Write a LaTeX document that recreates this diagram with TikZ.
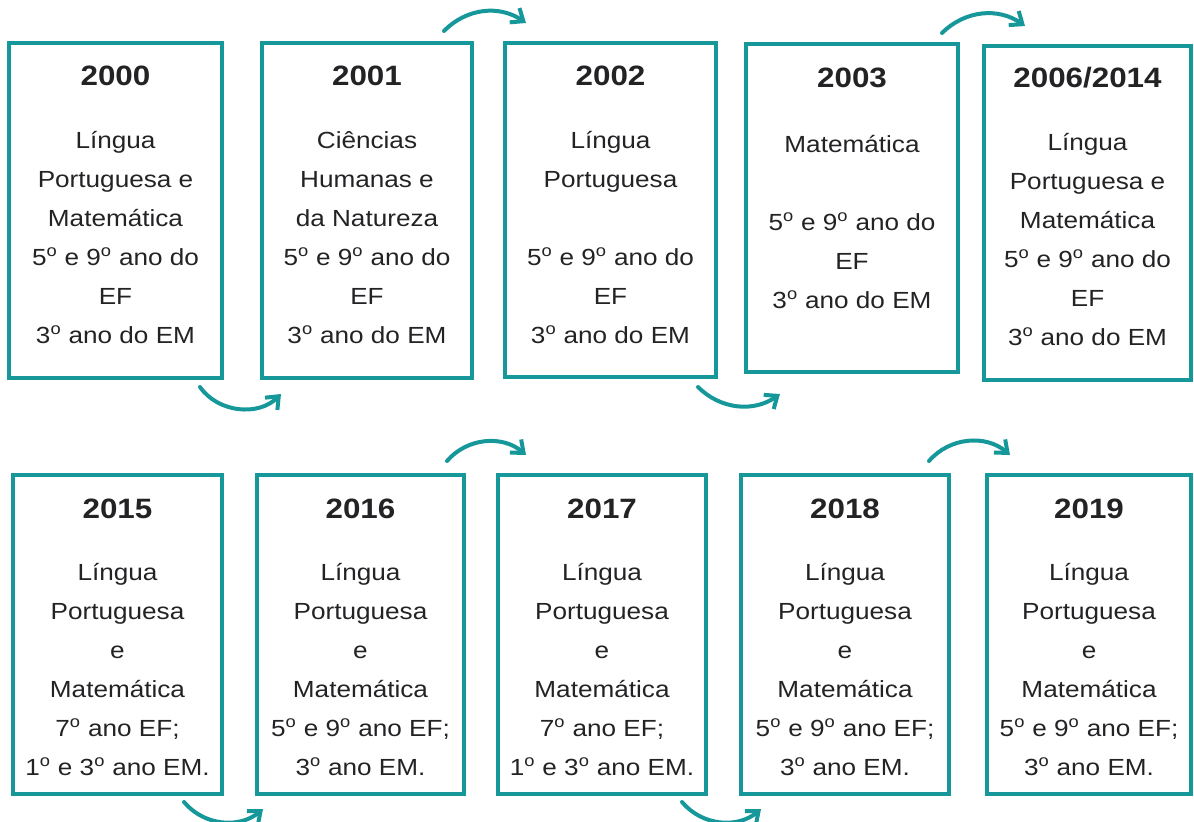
\documentclass[tikz,border=0pt]{standalone}
\usepackage{fontspec}
\setmainfont[FakeStretch=1.12]{Liberation Sans}
\usetikzlibrary{arrows.meta}
\definecolor{tealline}{RGB}{22,152,155}
\definecolor{inkgrey}{RGB}{35,35,38}
\newcommand{\cellstack}[1]{\begin{tabular}[t]{@{}c@{}}#1\end{tabular}}
\newcommand{\ord}{\textsuperscript{o}}
\tikzset{
  yearbox/.style={draw=tealline, line width=3pt, inner sep=0pt},
  yearlabel/.style={anchor=base, inner sep=0pt, text=inkgrey,
    font=\fontsize{21}{25}\selectfont\bfseries},
  bodylabel/.style={anchor=base, inner sep=0pt, text=inkgrey,
    font=\fontsize{17.5}{29.25}\selectfont},
  flow/.style={draw=tealline, line width=3pt, line cap=round,
    -{Straight Barb[length=8pt,width=13pt]}}
}
\begin{document}
\begin{tikzpicture}[x=0.75pt,y=-0.75pt]
    \def\px{0.75pt}
    \useasboundingbox (0,0) rectangle (1194,821);
    % top row
    \node[yearbox, minimum width=213*\px, minimum height=335*\px] (A0_0) at (115.5,210.5) {};
    \node[yearbox, minimum width=210*\px, minimum height=335*\px] (A0_1) at (367,210.5) {};
    \node[yearbox, minimum width=211*\px, minimum height=334*\px] (A0_2) at (610.5,210) {};
    \node[yearbox, minimum width=212*\px, minimum height=328*\px] (A0_3) at (852,208) {};
    \node[yearbox, minimum width=207*\px, minimum height=334*\px] (A0_4) at (1087.5,213) {};
    \node[yearlabel] (Y0_0) at (115.5,85) {2000};
    \node[yearlabel] (Y0_1) at (367,85) {2001};
    \node[yearlabel] (Y0_2) at (610.5,85) {2002};
    \node[yearlabel] (Y0_3) at (852,87) {2003};
    \node[yearlabel] (Y0_4) at (1087.5,87) {2006/2014};
    \node[bodylabel] (T0_0) at (115.5,148) {\cellstack{Língua\\Portuguesa e\\Matemática\\5\ord{} e 9\ord{} ano do\\EF\\3\ord{} ano do EM}};
    \node[bodylabel] (T0_1) at (367,148) {\cellstack{Ciências\\Humanas e\\da Natureza\\5\ord{} e 9\ord{} ano do\\EF\\3\ord{} ano do EM}};
    \node[bodylabel] (T0_2) at (610.5,148) {\cellstack{Língua\\Portuguesa\\ \\5\ord{} e 9\ord{} ano do\\EF\\3\ord{} ano do EM}};
    \node[bodylabel] (T0_3) at (852,152) {\cellstack{Matemática\\ \\5\ord{} e 9\ord{} ano do\\EF\\3\ord{} ano do EM}};
    \node[bodylabel] (T0_4) at (1087.5,150) {\cellstack{Língua\\Portuguesa e\\Matemática\\5\ord{} e 9\ord{} ano do\\EF\\3\ord{} ano do EM}};
    % bottom row
    \node[yearbox, minimum width=209*\px, minimum height=319*\px] (A1_0) at (117.5,634.5) {};
    \node[yearbox, minimum width=207*\px, minimum height=319*\px] (A1_1) at (360.5,634.5) {};
    \node[yearbox, minimum width=208*\px, minimum height=319*\px] (A1_2) at (602,634.5) {};
    \node[yearbox, minimum width=208*\px, minimum height=319*\px] (A1_3) at (845,634.5) {};
    \node[yearbox, minimum width=204*\px, minimum height=319*\px] (A1_4) at (1089,634.5) {};
    \node[yearlabel] (Y1_0) at (117.5,518) {2015};
    \node[yearlabel] (Y1_1) at (360.5,518) {2016};
    \node[yearlabel] (Y1_2) at (602,518) {2017};
    \node[yearlabel] (Y1_3) at (845,518) {2018};
    \node[yearlabel] (Y1_4) at (1089,518) {2019};
    \node[bodylabel] (T1_0) at (117.5,580) {\cellstack{Língua\\Portuguesa\\e\\Matemática\\7\ord{} ano EF;\\1\ord{} e 3\ord{} ano EM.}};
    \node[bodylabel] (T1_1) at (360.5,580) {\cellstack{Língua\\Portuguesa\\e\\Matemática\\5\ord{} e 9\ord{} ano EF;\\3\ord{} ano EM.}};
    \node[bodylabel] (T1_2) at (602,580) {\cellstack{Língua\\Portuguesa\\e\\Matemática\\7\ord{} ano EF;\\1\ord{} e 3\ord{} ano EM.}};
    \node[bodylabel] (T1_3) at (845,580) {\cellstack{Língua\\Portuguesa\\e\\Matemática\\5\ord{} e 9\ord{} ano EF;\\3\ord{} ano EM.}};
    \node[bodylabel] (T1_4) at (1089,580) {\cellstack{Língua\\Portuguesa\\e\\Matemática\\5\ord{} e 9\ord{} ano EF;\\3\ord{} ano EM.}};
    % arrows
    \path ([shift={(-24,7)}]A0_0.south east) edge [flow,bend right=50] ([shift={(21,14)}]A0_1.south west);
    \path ([shift={(-30,-10)}]A0_1.north east) edge [flow,bend left=40] ([shift={(23,-18)}]A0_2.north west);
    \path ([shift={(-20,8)}]A0_2.south east) edge [flow,bend right=40] ([shift={(36,20)}]A0_3.south west);
    \path ([shift={(-18,-9)}]A0_3.north east) edge [flow,bend left=40] ([shift={(43,-18)}]A0_4.north west);
    \path ([shift={(-40,6)}]A1_0.south east) edge [flow,bend right=45] ([shift={(8,13)}]A1_1.south west);
    \path ([shift={(-19,-12)}]A1_1.north east) edge [flow,bend left=45] ([shift={(30,-18)}]A1_2.north west);
    \path ([shift={(-26,6)}]A1_2.south east) edge [flow,bend right=45] ([shift={(22,13)}]A1_3.south west);
    \path ([shift={(-22,-12)}]A1_3.north east) edge [flow,bend left=45] ([shift={(25,-18)}]A1_4.north west);
\end{tikzpicture}
\end{document}
